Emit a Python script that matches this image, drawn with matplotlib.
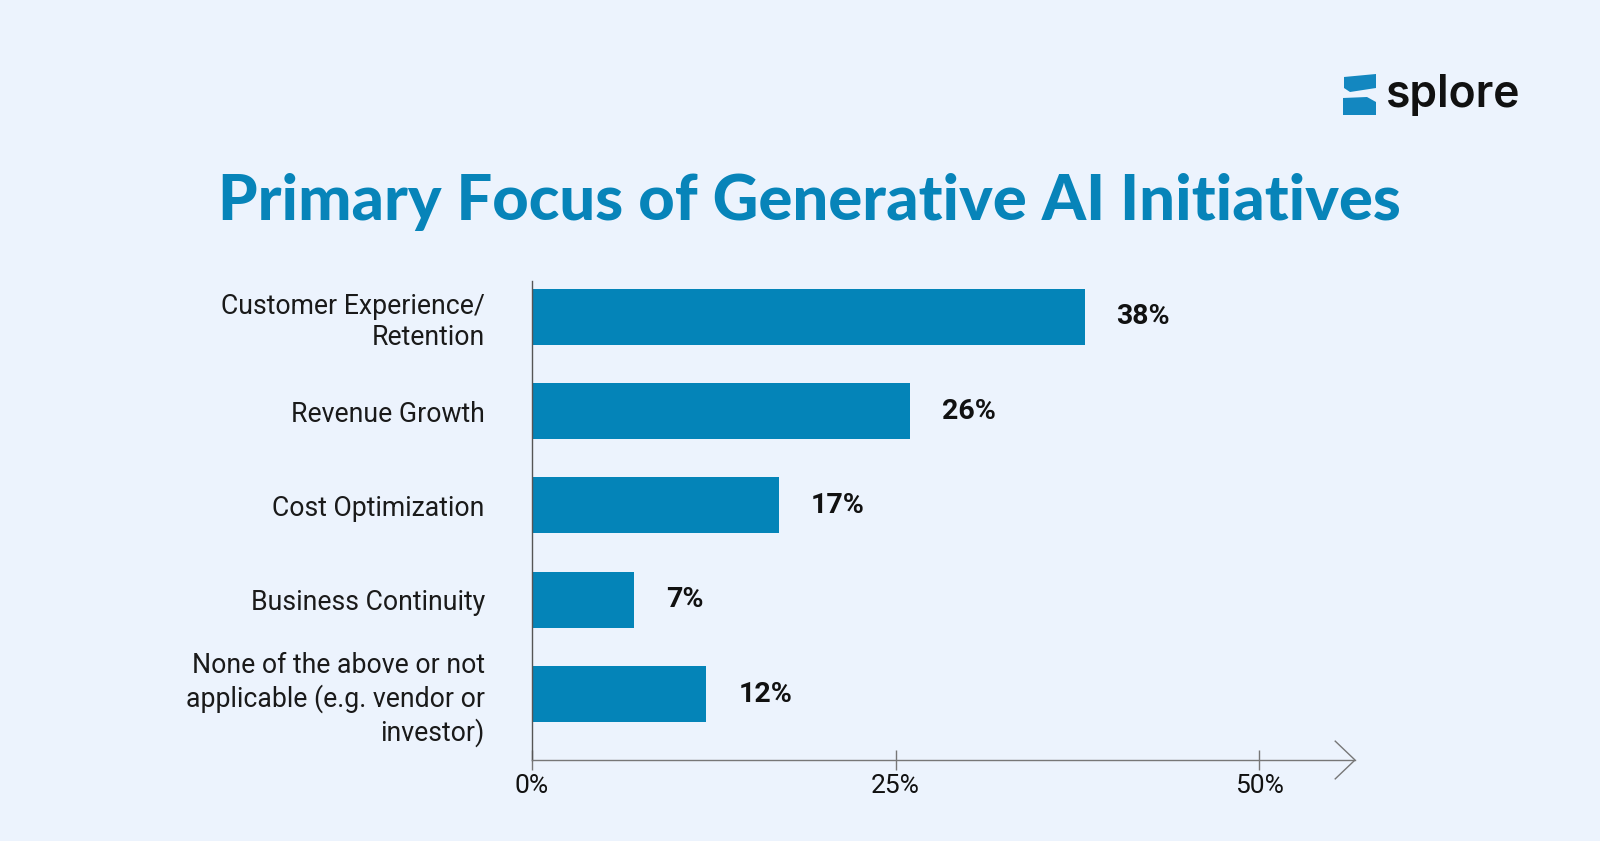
import matplotlib.pyplot as plt
from matplotlib.patches import Polygon

# data
categories = ["Customer Experience/\nRetention", "Revenue Growth", "Cost Optimization",
              "Business Continuity", "None of the above or not\napplicable (e.g. vendor or\ninvestor)"]
values = [38, 26, 17, 7, 12]
tick_vals = [0, 25, 50]
tick_labels = ["0%", "25%", "50%"]

bg = "#ecf3fd"
blue = "#0484b8"

fig = plt.figure(figsize=(16, 8.41), dpi=100)
fig.patch.set_facecolor(bg)

ax = fig.add_axes([0.3325, 0.0963, 0.514375, 0.5696])
ax.set_facecolor(bg)

pos = list(range(len(values)))
ax.barh(pos, values, height=0.594, color=blue, zorder=2)
for p, v in zip(pos, values):
    ax.text(v + 2.2, p, f"{v}%", va="center", ha="left", fontsize=20.5,
            fontweight="bold", family="Roboto", color="#111111")

ax.set_xlim(0, 56.6)
ax.set_ylim(4.70, -0.38)

ax.set_yticks(pos)
ax.set_yticklabels(categories, fontsize=19.2, family="Roboto", color="#1a1a1a",
                   linespacing=1.22)
ax.tick_params(axis="y", length=0, pad=34)

ax.set_xticks(tick_vals)
ax.set_xticklabels(tick_labels, fontsize=19, family="Roboto", color="#111111")
ax.tick_params(axis="x", direction="inout", length=14, width=1, color="#777777", pad=3)

for s in ["top", "right"]:
    ax.spines[s].set_visible(False)
ax.spines["left"].set_color("#555555")
ax.spines["bottom"].set_color("#777777")
ax.spines["left"].set_linewidth(1)
ax.spines["bottom"].set_linewidth(1)

# arrow head at end of x axis
xmax = ax.get_xlim()[1]
ax.plot([xmax - 1.36, xmax, xmax - 1.36], [4.50, 4.70, 4.90], color="#777777",
        lw=1, clip_on=False, solid_joinstyle="miter")

# title
fig.text(0.506, 0.760, "Primary Focus of Generative AI Initiatives", ha="center",
         va="center", fontsize=45.5, fontweight="black", family="Lato", color="#0784b9")

# logo
W, H = 1600, 841
def fpt(x, y):
    return (x / W, 1 - y / H)

top = [fpt(1344, 77), fpt(1376, 74), fpt(1376, 88), fpt(1350, 92), fpt(1344, 88)]
bot = [fpt(1343, 98), fpt(1367, 97), fpt(1376, 102), fpt(1376, 115), fpt(1343, 115)]
for shape in (top, bot):
    fig.add_artist(Polygon(shape, closed=True, transform=fig.transFigure,
                           facecolor="#1387c0", edgecolor="none"))
fig.text(1385 / W, 1 - 107 / H, "splore", ha="left", va="baseline", fontsize=32,
         fontweight="semibold", family="Inter", color="#111111")

fig.savefig("out.png", dpi=100, facecolor=bg)
